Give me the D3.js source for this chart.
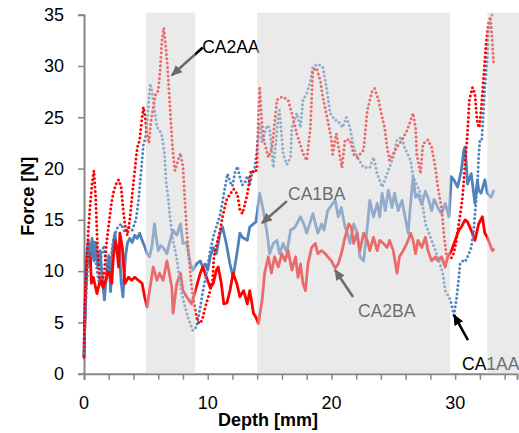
<!DOCTYPE html>
<html>
<head>
<meta charset="utf-8">
<script src="https://cdn.jsdelivr.net/npm/d3@7"></script>
<style>
  body { margin: 0; background: #fff; }
  svg { display: block; font-family: "Liberation Sans", Arial, sans-serif; }
</style>
</head>
<body>
<script>
// Gray test zones (depth in mm)
const bandRanges = [[5, 9], [14, 29.6], [32.6, 35.2]];

const yTicks = [0, 5, 10, 15, 20, 25, 30, 35];
const xTickLabels = [0, 10, 20, 30];

// CA1BA - solid blue
const ca1baDepth = [0, 0.15, 0.2, 0.35, 0.5, 0.65, 0.8, 0.95, 1.1, 1.3, 1.5, 1.65, 1.8, 2.0, 2.15, 2.3, 2.5, 2.7, 2.85, 3.0, 3.15, 3.35, 3.5, 3.7, 3.9, 4.1, 4.3, 4.5, 4.7, 4.9, 5.1, 5.3, 5.5, 5.7, 5.85, 6.0, 6.2, 6.4, 6.7, 6.9, 7.2, 7.5, 7.8, 8.0, 8.3, 8.6, 8.8, 9.1, 9.4, 9.6, 9.8, 10.0, 10.2, 10.45, 10.7, 11.0, 11.2, 11.5, 11.8, 12.05, 12.4, 12.6, 12.8, 13.2, 13.4, 13.7, 13.9, 14.2, 14.45, 14.8, 15.0, 15.3, 15.6, 15.8, 16.1, 16.4, 16.7, 17.0, 17.2, 17.5, 17.8, 18.0, 18.5, 18.9, 19.2, 19.4, 19.7, 20.1, 20.3, 20.55, 20.8, 21.1, 21.3, 21.5, 21.8, 22.1, 22.3, 22.6, 22.9, 23.1, 23.4, 23.7, 23.9, 24.1, 24.35, 24.6, 24.9, 25.1, 25.4, 25.7, 25.95, 26.2, 26.35, 26.6, 26.8, 27.0, 27.3, 27.6, 27.85, 28.1, 28.3, 28.6, 28.9, 29.2, 29.5, 29.7, 29.9, 30.2, 30.5, 30.7, 30.8, 30.9, 31.0, 31.3, 31.6, 31.8, 31.9, 32.1, 32.4, 32.6, 32.9, 33.1];
const ca1baForce = [1.6, 9, 11.4, 13, 10.5, 13.2, 11, 12.8, 10.5, 12, 9, 7.2, 9.5, 11.5, 8, 12, 13.7, 11.5, 12.5, 9, 7.5, 11.4, 12.7, 13.2, 12.8, 13.5, 13.2, 13.7, 13, 12.4, 11.7, 11.4, 12.5, 14.6, 13.2, 12, 12.5, 12.3, 11.7, 12.7, 14, 13.5, 14.6, 12.7, 12.8, 10.7, 10.1, 10.7, 11, 10.4, 10.7, 10.1, 11.4, 12.3, 11.7, 13.7, 14.3, 12.7, 10.7, 9.4, 12, 13.7, 13.3, 13, 14.3, 14.6, 14.8, 17.6, 16.2, 13.7, 11.7, 12.7, 13, 11.7, 12.7, 11.8, 14, 14.2, 14.6, 15.3, 14.5, 13.7, 15.6, 13.7, 14.6, 14, 15.9, 16.6, 16.9, 15.3, 16.2, 14.3, 13.7, 12.7, 14.6, 13.7, 11.4, 11, 14.3, 16.9, 15.3, 16.6, 15.3, 17.6, 15.9, 17.9, 16.2, 17.6, 15.9, 16.9, 15.3, 13.7, 15.9, 19.2, 17.2, 17.5, 16.5, 17.8, 17, 15.9, 17, 16.2, 15.6, 16.6, 15.3, 19.2, 18.9, 18.2, 19.8, 21.8, 22.1, 20.5, 18.5, 19.5, 16.6, 18.9, 17.9, 17.6, 18.9, 17.6, 17.2, 17.8];

// CA2BA - solid red
const ca2baDepth = [0, 0.1, 0.25, 0.5, 0.6, 0.75, 1.05, 1.3, 1.55, 1.85, 1.95, 2.25, 2.35, 2.5, 2.65, 2.8, 2.9, 3.1, 3.3, 3.6, 3.85, 4.1, 4.4, 4.7, 4.9, 5.1, 5.3, 5.6, 5.9, 6.1, 6.4, 6.7, 6.8, 7.1, 7.2, 7.5, 7.8, 8.0, 8.3, 8.7, 9.0, 9.4, 9.6, 9.9, 10.2, 10.45, 10.7, 10.85, 11.1, 11.3, 11.55, 11.8, 12.05, 12.35, 12.6, 12.9, 13.2, 13.4, 13.7, 13.9, 14.1, 14.4, 14.6, 14.9, 15.15, 15.4, 15.7, 16.0, 16.25, 16.5, 16.8, 17.1, 17.3, 17.5, 17.7, 17.9, 18.1, 18.4, 18.7, 18.9, 19.2, 19.5, 19.7, 20.0, 20.3, 20.55, 20.8, 21.1, 21.4, 21.6, 21.8, 22.05, 22.3, 22.6, 22.9, 23.1, 23.4, 23.7, 23.9, 24.2, 24.5, 24.7, 25.0, 25.3, 25.5, 25.8, 26.1, 26.4, 26.6, 26.8, 27.0, 27.3, 27.6, 27.8, 28.1, 28.4, 28.6, 28.9, 29.2, 29.4, 29.7, 30.0, 30.3, 30.5, 30.8, 31.0, 31.4, 31.6, 31.9, 32.2, 32.4, 32.6, 33.0, 33.1];
const ca2baForce = [1.6, 7.2, 11, 11.7, 8.8, 9.4, 7.8, 9.1, 8.4, 9.4, 10.4, 8.8, 11, 13, 12.3, 10.4, 13.7, 12.3, 8.8, 9.4, 9.1, 9.4, 9.1, 8.8, 7.5, 6.5, 8.1, 10.4, 9.1, 9.8, 9.1, 11, 10.4, 8.4, 5.9, 8.8, 9.8, 8.1, 7.5, 6.8, 8.1, 9.8, 10.4, 9.4, 8.4, 8.8, 10.1, 10.4, 8.8, 6.8, 6.9, 8.1, 9.8, 8.8, 7.5, 8.1, 6.8, 8.1, 5.9, 5.5, 4.9, 7.2, 9.8, 11.4, 9.8, 11.4, 10.4, 11.7, 11, 12, 10.1, 11.4, 9.4, 10.7, 8.8, 8.1, 10.7, 12.3, 12.7, 11.7, 12, 11.7, 11.4, 11, 10.3, 10.7, 11.7, 13.3, 14.6, 14.3, 12.7, 13.7, 12, 13.7, 13, 12, 13.3, 12, 13, 12.7, 12.3, 13, 12, 9.8, 11.4, 12, 12.7, 13.7, 13, 11.7, 13, 12.3, 13.3, 12, 11, 11.4, 11, 11.4, 10.4, 11.4, 12, 13, 14, 14.3, 15, 14.8, 13.7, 13, 14.6, 15.3, 13.7, 13.3, 12, 12.1];

// CA1AA - dotted blue
const ca1aaDepth = [0, 0.15, 0.3, 0.45, 0.6, 0.8, 1.0, 1.2, 1.4, 1.6, 1.8, 2.0, 2.2, 2.4, 2.7, 3.0, 3.3, 3.6, 3.9, 4.2, 4.4, 4.6, 4.8, 5.0, 5.2, 5.35, 5.5, 5.7, 5.9, 6.1, 6.3, 6.5, 6.65, 6.8, 6.95, 7.2, 7.5, 7.8, 8.1, 8.4, 8.8, 9.1, 9.4, 9.6, 9.9, 10.2, 10.5, 10.8, 11.0, 11.2, 11.4, 11.6, 11.8, 12.0, 12.2, 12.4, 12.6, 12.8, 13.0, 13.2, 13.4, 13.6, 13.8, 14.0, 14.2, 14.4, 14.6, 14.8, 15.0, 15.3, 15.5, 15.7, 15.8, 16.1, 16.4, 16.7, 16.8, 17.2, 17.5, 17.7, 18.0, 18.3, 18.5, 18.9, 19.3, 19.6, 19.9, 20.3, 20.5, 20.9, 21.2, 21.5, 21.8, 22.1, 22.6, 23.1, 23.4, 23.7, 24.1, 24.5, 25.0, 25.3, 25.7, 25.9, 26.4, 26.6, 27.2, 27.4, 27.6, 28.1, 28.6, 29.0, 29.2, 29.5, 29.7, 29.9, 30.1, 30.3, 30.4, 30.6, 30.8, 31.0, 31.3, 31.5, 31.7, 31.8, 31.9, 32.0, 32.15, 32.3, 32.4, 32.6, 32.7, 32.9, 33.0];
const ca1aaForce = [2, 7, 10.5, 12.8, 11.5, 13, 10.5, 9, 11.5, 12.5, 10.8, 10, 11.5, 13.3, 14.2, 14.6, 13.8, 14.3, 14, 15, 16.8, 19.5, 22.3, 23.2, 26, 28.3, 27.5, 25.7, 24, 23.8, 23.2, 21.5, 18.5, 17.2, 15.3, 13, 11.2, 8.5, 6.8, 5.5, 4.2, 4.6, 6.5, 8, 9.8, 12, 13.6, 14.7, 15.5, 16.8, 18.2, 19.5, 18.7, 18.3, 19.6, 20.2, 19.2, 18.4, 18.6, 19.3, 18.4, 19.6, 20.1, 22, 24.5, 22.5, 23.5, 24.2, 24, 20.1, 22.5, 25, 25.7, 21.4, 20.4, 21.1, 24, 25.4, 24, 26.7, 27.3, 28.5, 29.9, 30.2, 29.9, 27.9, 25.4, 24.7, 24.7, 24, 25, 24, 22.1, 21.1, 20.1, 20.1, 21.1, 19.5, 18.2, 19.5, 21.1, 22.8, 23.1, 22.1, 20.8, 19.2, 17.6, 16.2, 14.6, 13, 11.4, 9.8, 8.1, 7.5, 6.8, 5.7, 7.2, 9.4, 10.7, 11, 10.9, 11.4, 12.3, 14, 17, 18.5, 21.1, 22.8, 22.8, 25.7, 27.9, 30.6, 33.5, 34.8, 35];

// CA2AA - dotted red
const ca2aaDepth = [0, 0.1, 0.2, 0.35, 0.5, 0.65, 0.8, 0.95, 1.1, 1.25, 1.45, 1.65, 1.8, 2.0, 2.2, 2.4, 2.6, 2.8, 3.0, 3.15, 3.3, 3.5, 3.7, 3.9, 4.1, 4.3, 4.5, 4.65, 4.8, 4.95, 5.1, 5.25, 5.4, 5.6, 5.8, 6.0, 6.15, 6.3, 6.45, 6.6, 6.75, 6.9, 7.0, 7.15, 7.35, 7.6, 7.8, 8.0, 8.15, 8.3, 8.5, 8.7, 8.9, 9.1, 9.3, 9.55, 9.8, 10.2, 10.4, 10.5, 10.8, 11.0, 11.2, 11.5, 11.8, 12.1, 12.4, 12.6, 12.8, 13.0, 13.2, 13.5, 13.8, 14.0, 14.1, 14.2, 14.35, 14.5, 14.9, 15.2, 15.6, 16.0, 16.5, 16.8, 17.2, 17.7, 18.0, 18.3, 18.5, 18.8, 19.1, 19.3, 19.7, 20.0, 20.1, 20.4, 20.7, 20.85, 21.1, 21.5, 21.8, 22.1, 22.6, 22.9, 23.3, 23.5, 23.8, 24.1, 24.3, 24.5, 24.7, 25.3, 25.7, 26.1, 26.4, 26.6, 26.8, 26.9, 27.2, 27.3, 27.4, 27.8, 28.1, 28.4, 28.6, 28.9, 29.1, 29.3, 29.5, 29.7, 29.9, 30.1, 30.4, 30.6, 30.8, 31.0, 31.15, 31.4, 31.6, 31.7, 31.8, 31.95, 32.1, 32.3, 32.5, 32.7, 32.85, 33.0, 33.1];
const ca2aaForce = [3, 7.5, 10.5, 14, 16.5, 18.5, 19.8, 17, 12, 9.5, 8.8, 10, 12.5, 14.5, 16.5, 17.8, 18.5, 18.9, 18.2, 16.2, 14.6, 13.5, 15, 17.5, 19.8, 22, 22.8, 24.5, 26, 25, 23.3, 22.5, 24.5, 26, 27.3, 27.6, 29.5, 32.5, 33.7, 32, 29.9, 27, 25, 22.1, 19.8, 20.8, 21.5, 20.2, 17, 14, 11, 8.5, 6.8, 5.5, 4.9, 5.2, 6.5, 8.1, 9.2, 11.4, 13, 14, 15.3, 16.9, 17.5, 18, 17.5, 16, 15.6, 16.5, 17.5, 19.8, 19.6, 20, 25, 28, 25, 23, 21.1, 22, 26.7, 27, 26.7, 25.4, 23.4, 21.5, 20.8, 24, 29.6, 29.8, 28.6, 27, 24.7, 22.8, 21.4, 23.4, 21.1, 20.1, 22.8, 22.8, 21.4, 21.1, 21.8, 25.7, 27.6, 27.8, 26.7, 25, 24, 22.1, 20.8, 22.1, 22.8, 23.7, 24.7, 25.4, 24, 21.4, 19.5, 21.1, 22.4, 22.8, 22.1, 20.1, 18.2, 16.2, 13.5, 11.5, 11.2, 11.3, 11.8, 13, 15.5, 17.2, 20.5, 23.5, 26.7, 27.9, 27.3, 25.7, 24.4, 24, 25.7, 28.9, 32.2, 34.2, 34.8, 32.5, 30.4];

// Callout labels: [text, labelDepth, labelForce, tailDepth, tailForce, headDepth, headForce]
const callouts = [
  ["CA2AA", 9.55, 31.25, 9.6, 31.8, 7.1, 29.1],
  ["CA1BA", 16.49, 16.93, 16.41, 16.83, 14.39, 14.69],
  ["CA2BA", 22.15, 5.53, 21.75, 7.48, 20.29, 10.11],
  ["CA1AA", 30.56, 0.36, 31.04, 3.28, 29.91, 5.72]
];

const width = 519;
const height = 433;
const margin = { top: 14.7, right: 2, bottom: 59.3, left: 84 };

const svg = d3.select("body").append("svg")
  .attr("width", width)
  .attr("height", height);

const x = d3.scaleLinear().domain([0, 35]).range([margin.left, width - margin.right]);
const y = d3.scaleLinear().domain([0, 35]).range([height - margin.bottom, margin.top]);

const axisColor = "#868686";

// Step 1: axes
const xAxis = svg.append("g")
  .attr("transform", `translate(0,${y(0)})`)
  .call(d3.axisBottom(x).tickValues(d3.range(0, 35.01, 2)).tickSize(6).tickFormat(""));
const yAxis = svg.append("g")
  .attr("transform", `translate(${x(0)},0)`)
  .call(d3.axisLeft(y).tickValues(yTicks).tickSize(6).tickFormat(""));
[xAxis, yAxis].forEach((g) => {
  g.select(".domain").attr("stroke", axisColor).attr("stroke-width", 2);
  g.selectAll(".tick line").attr("stroke", axisColor).attr("stroke-width", 1.5);
});

svg.append("g").selectAll("text")
  .data(yTicks)
  .join("text")
  .attr("x", x(0) - 20)
  .attr("y", (d) => y(d))
  .attr("dy", "0.35em")
  .attr("text-anchor", "end")
  .attr("font-size", 18)
  .attr("fill", "#000")
  .text((d) => d);

svg.append("g").selectAll("text")
  .data(xTickLabels)
  .join("text")
  .attr("x", (d) => x(d))
  .attr("y", y(0) + 35)
  .attr("text-anchor", "middle")
  .attr("font-size", 18)
  .attr("fill", "#000")
  .text((d) => d);

svg.append("text")
  .attr("x", 268)
  .attr("y", 426)
  .attr("text-anchor", "middle")
  .attr("font-size", 18)
  .attr("font-weight", "bold")
  .text("Depth [mm]");

svg.append("text")
  .attr("transform", `translate(34,${(y(0) + y(35)) / 2 + 2}) rotate(-90)`)
  .attr("text-anchor", "middle")
  .attr("font-size", 18)
  .attr("font-weight", "bold")
  .text("Force [N]");

// Step 2: the four curves
const line = d3.line().x((d) => x(d[0])).y((d) => y(d[1]));
const series = [
  { depth: ca1baDepth, force: ca1baForce, color: "#4f81bd", dotted: false },
  { depth: ca2baDepth, force: ca2baForce, color: "#ff0000", dotted: false },
  { depth: ca1aaDepth, force: ca1aaForce, color: "#4f81bd", dotted: true },
  { depth: ca2aaDepth, force: ca2aaForce, color: "#ff0000", dotted: true }
];

series.forEach((s) => {
  const pts = s.depth.map((d, i) => [d, s.force[i]]);
  svg.append("path")
    .datum(pts)
    .attr("fill", "none")
    .attr("stroke", s.color)
    .attr("stroke-width", s.dotted ? 3 : 2.8)
    .attr("stroke-linejoin", "round")
    .attr("stroke-linecap", "round")
    .attr("stroke-dasharray", s.dotted ? "0 4.3" : null)
    .attr("d", line);
});

// Step 3: callouts with arrows
svg.append("defs").append("marker")
  .attr("id", "head")
  .attr("markerUnits", "userSpaceOnUse")
  .attr("viewBox", "0 -5 10 10")
  .attr("refX", 9)
  .attr("refY", 0)
  .attr("markerWidth", 11)
  .attr("markerHeight", 11)
  .attr("orient", "auto")
  .append("path")
  .attr("d", "M0,-4.5L10,0L0,4.5Z")
  .attr("fill", "#000");

callouts.forEach((c) => {
  svg.append("line")
    .attr("x1", x(c[3])).attr("y1", y(c[4]))
    .attr("x2", x(c[5])).attr("y2", y(c[6]))
    .attr("stroke", "#000")
    .attr("stroke-width", 2.5)
    .attr("marker-end", "url(#head)");
  svg.append("text")
    .attr("x", x(c[1]))
    .attr("y", y(c[2]))
    .attr("font-size", 17.5)
    .attr("fill", "#000")
    .text(c[0]);
});

// Step 4: translucent gray zones drawn over everything
svg.append("g").selectAll("rect")
  .data(bandRanges)
  .join("rect")
  .attr("x", (d) => x(d[0]))
  .attr("y", y(35.2))
  .attr("width", (d) => x(d[1]) - x(d[0]))
  .attr("height", y(0) - y(35.2))
  .attr("fill", "#d6d6d6")
  .attr("fill-opacity", 0.5);
</script>
</body>
</html>
